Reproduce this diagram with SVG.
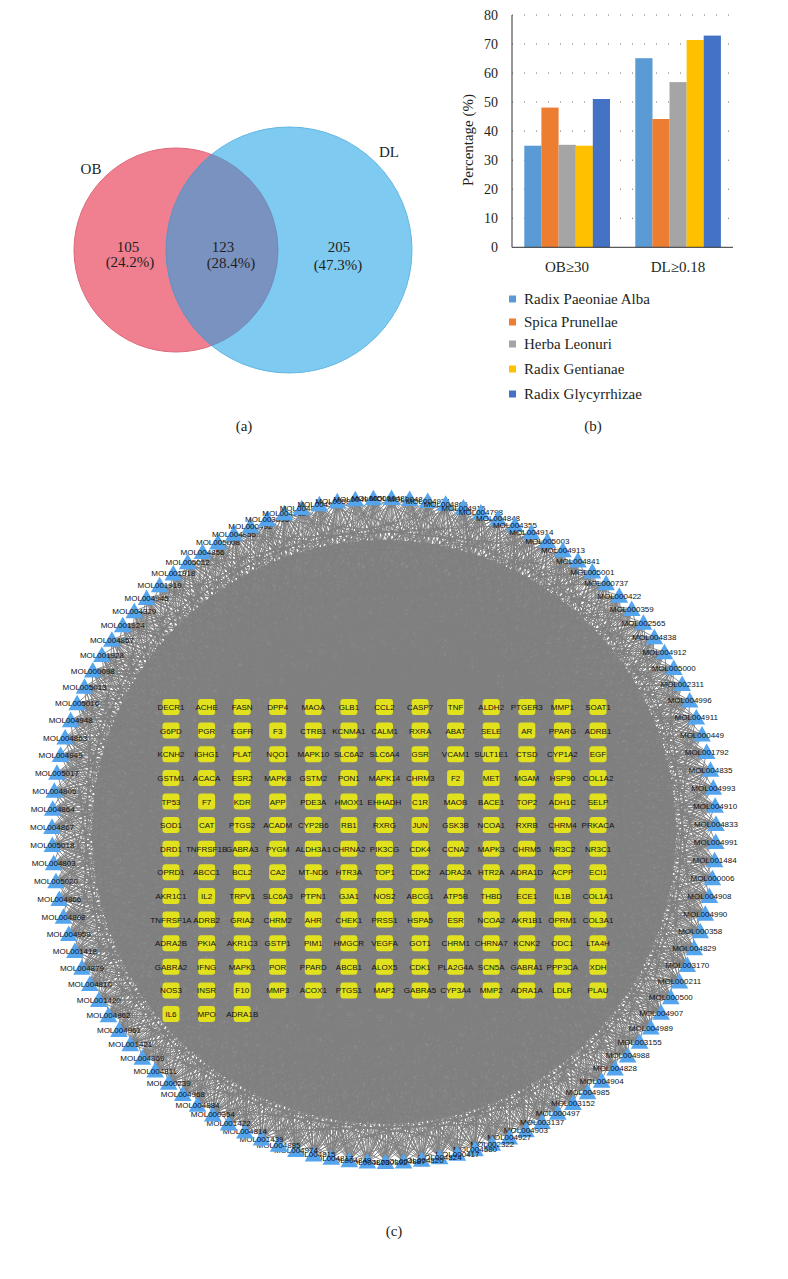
<svg xmlns="http://www.w3.org/2000/svg" width="788" height="1279" viewBox="0 0 788 1279">
<style>
.sf{font-family:"Liberation Serif","Times New Roman",serif;fill:#231f20}
.vt{font-size:15px;text-anchor:middle}
.tk{font-size:14px;text-anchor:end}
.lg{font-size:15px}
.cp{font-size:15px;text-anchor:middle}
.gt,.ml{font-family:"Liberation Sans",Arial,sans-serif;font-size:8px;text-anchor:middle;fill:#111}
.gl{stroke:#6f6f6f;stroke-width:1;stroke-dasharray:1 11;fill:none}
.ax{stroke:#333;stroke-width:1;fill:none}
.edge{fill:none;stroke:#808080;stroke-width:0.85}
.gb{fill:#e1e11e}
.tri{fill:#55a5ee}
</style>
<defs>
<rect id="box" class="gb" x="-8.5" y="-8" width="17" height="16" rx="3"/>
<path id="tri" class="tri" d="M0 -8.5L8.8 7L-8.8 7Z"/>
<path id="fA" class="edge" d="M384 498L171 707M384 498L313 730M384 498L456 754M384 498L598 777M384 498L206 801M384 498L349 825M384 498L491 849M384 498L562 872M384 498L242 896M384 498L384 919M384 498L527 943M384 498L278 967M384 498L420 990M384 498L206 1014M384 498L598 707M384 498L491 730M384 498L278 754M384 498L171 849M384 498L598 896M384 498L384 801M384 498L456 1014M384 498L313 872M384 498L150 640M384 498L620 650M384 498L120 760"/>
<path id="fB" class="edge" d="M384 498L206 707M384 498L349 730M384 498L491 754M384 498L171 777M384 498L242 825M384 498L384 849M384 498L527 872M384 498L598 919M384 498L278 943M384 498L420 967M384 498L562 990M384 498L171 990M384 498L527 707M384 498L420 754M384 498L242 730M384 498L313 801M384 498L456 801M384 498L562 825M384 498L206 919M384 498L349 1014M384 498L491 896M384 498L598 1014M384 498L640 720M384 498L180 600M384 498L660 800"/>
<path id="fC" class="edge" d="M384 498L242 707M384 498L384 707M384 498L562 730M384 498L206 754M384 498L349 777M384 498L527 777M384 498L278 825M384 498L420 825M384 498L171 872M384 498L349 896M384 498L456 872M384 498L598 849M384 498L242 943M384 498L313 990M384 498L491 967M384 498L562 1014M384 498L420 1014M384 498L171 930M384 498L527 896M384 498L278 1014M384 498L384 967M384 498L598 943M384 498L590 600M384 498L130 700M384 498L110 840"/>
</defs>
<rect width="788" height="1279" fill="#fff"/>

<!-- (a) Venn -->
<g id="venn">
<circle id="venn-OB" cx="176" cy="250" r="102" fill="#f07f90" stroke="#dc6a7d" stroke-width="1"/>
<circle id="venn-DL" cx="289" cy="250" r="123" fill="#7ecaf0" stroke="#63b8e3" stroke-width="1"/>
<path id="venn-both" d="M211.6 154.4A102 102 0 0 1 211.6 345.6A123 123 0 0 1 211.6 154.4Z" fill="#7a92c0" stroke="#6d85b6" stroke-width="0.8"/>
<text class="sf vt" x="91" y="174">OB</text>
<text class="sf vt" x="389" y="157">DL</text>
<text class="sf vt" x="128" y="252">105</text>
<text class="sf vt" x="130" y="267">(24.2%)</text>
<text class="sf vt" x="223" y="252">123</text>
<text class="sf vt" x="231" y="268">(28.4%)</text>
<text class="sf vt" x="339" y="252">205</text>
<text class="sf vt" x="338" y="270">(47.3%)</text>
<text class="sf cp" x="244" y="431">(a)</text>
</g>

<!-- (b) bar chart -->
<g id="barchart">
<path class="gl" d="M512 218.3H730M512 189.2H730M512 160.2H730M512 131.1H730M512 102.1H730M512 73.1H730M512 44H730M512 15H730"/>
<rect x="524.3" y="145.7" width="17.2" height="101.6" fill="#5b9bd5"/>
<rect x="541.4" y="107.6" width="17.2" height="139.7" fill="#ed7d31"/>
<rect x="558.6" y="144.8" width="17.2" height="102.5" fill="#a5a5a5"/>
<rect x="575.7" y="145.7" width="17.2" height="101.6" fill="#ffc000"/>
<rect x="592.8" y="99" width="17.2" height="148.3" fill="#4472c4"/>
<rect x="635.3" y="58.2" width="17.2" height="189.1" fill="#5b9bd5"/>
<rect x="652.4" y="119" width="17.2" height="128.3" fill="#ed7d31"/>
<rect x="669.5" y="82.1" width="17.2" height="165.2" fill="#a5a5a5"/>
<rect x="686.6" y="40" width="17.2" height="207.3" fill="#ffc000"/>
<rect x="703.7" y="35.6" width="17.2" height="211.7" fill="#4472c4"/>
<path class="ax" d="M512 15V247.3H733"/>
<text class="sf tk" x="498" y="252.3">0</text>
<text class="sf tk" x="498" y="223.3">10</text>
<text class="sf tk" x="498" y="194.2">20</text>
<text class="sf tk" x="498" y="165.2">30</text>
<text class="sf tk" x="498" y="136.1">40</text>
<text class="sf tk" x="498" y="107.1">50</text>
<text class="sf tk" x="498" y="78.1">60</text>
<text class="sf tk" x="498" y="49">70</text>
<text class="sf tk" x="498" y="20">80</text>
<text class="sf vt" transform="translate(473 140) rotate(-90)">Percentage (%)</text>
<text class="sf vt" x="567" y="272">OB≥30</text>
<text class="sf vt" x="678" y="272">DL≥0.18</text>
<rect x="509" y="295.5" width="7" height="7" fill="#5b9bd5"/>
<rect x="509" y="318.5" width="7" height="7" fill="#ed7d31"/>
<rect x="509" y="340.5" width="7" height="7" fill="#a5a5a5"/>
<rect x="509" y="365.5" width="7" height="7" fill="#ffc000"/>
<rect x="509" y="390.5" width="7" height="7" fill="#4472c4"/>
<text class="sf lg" x="524" y="304">Radix Paeoniae Alba</text>
<text class="sf lg" x="524" y="327">Spica Prunellae</text>
<text class="sf lg" x="524" y="349">Herba Leonuri</text>
<text class="sf lg" x="524" y="374">Radix Gentianae</text>
<text class="sf lg" x="524" y="399">Radix Glycyrrhizae</text>
<text class="sf cp" x="593" y="431">(b)</text>
</g>

<!-- (c) network connectors -->
<g id="connectors">
<circle cx="384" cy="832" r="292" fill="#8b8b8b"/>
<use href="#fA" transform="rotate(42 384 830)"/>
<use href="#fB" transform="rotate(45.13 384 830)"/>
<use href="#fC" transform="rotate(48.26 384 830)"/>
<use href="#fA" transform="rotate(51.39 384 830)"/>
<use href="#fB" transform="rotate(54.52 384 830)"/>
<use href="#fC" transform="rotate(57.65 384 830)"/>
<use href="#fA" transform="rotate(60.78 384 830)"/>
<use href="#fB" transform="rotate(63.91 384 830)"/>
<use href="#fC" transform="rotate(67.04 384 830)"/>
<use href="#fA" transform="rotate(70.17 384 830)"/>
<use href="#fB" transform="rotate(73.3 384 830)"/>
<use href="#fC" transform="rotate(76.43 384 830)"/>
<use href="#fA" transform="rotate(79.56 384 830)"/>
<use href="#fB" transform="rotate(82.7 384 830)"/>
<use href="#fC" transform="rotate(85.83 384 830)"/>
<use href="#fA" transform="rotate(88.96 384 830)"/>
<use href="#fB" transform="rotate(92.09 384 830)"/>
<use href="#fC" transform="rotate(95.22 384 830)"/>
<use href="#fA" transform="rotate(98.35 384 830)"/>
<use href="#fB" transform="rotate(101.48 384 830)"/>
<use href="#fC" transform="rotate(104.61 384 830)"/>
<use href="#fA" transform="rotate(107.74 384 830)"/>
<use href="#fB" transform="rotate(110.87 384 830)"/>
<use href="#fC" transform="rotate(114 384 830)"/>
<use href="#fA" transform="rotate(117.13 384 830)"/>
<use href="#fB" transform="rotate(120.26 384 830)"/>
<use href="#fC" transform="rotate(123.39 384 830)"/>
<use href="#fA" transform="rotate(126.52 384 830)"/>
<use href="#fB" transform="rotate(129.65 384 830)"/>
<use href="#fC" transform="rotate(132.78 384 830)"/>
<use href="#fA" transform="rotate(135.91 384 830)"/>
<use href="#fB" transform="rotate(139.04 384 830)"/>
<use href="#fC" transform="rotate(142.17 384 830)"/>
<use href="#fA" transform="rotate(145.3 384 830)"/>
<use href="#fB" transform="rotate(148.43 384 830)"/>
<use href="#fC" transform="rotate(151.57 384 830)"/>
<use href="#fA" transform="rotate(154.7 384 830)"/>
<use href="#fB" transform="rotate(157.83 384 830)"/>
<use href="#fC" transform="rotate(160.96 384 830)"/>
<use href="#fA" transform="rotate(164.09 384 830)"/>
<use href="#fB" transform="rotate(167.22 384 830)"/>
<use href="#fC" transform="rotate(170.35 384 830)"/>
<use href="#fA" transform="rotate(173.48 384 830)"/>
<use href="#fB" transform="rotate(176.61 384 830)"/>
<use href="#fC" transform="rotate(179.74 384 830)"/>
<use href="#fA" transform="rotate(182.87 384 830)"/>
<use href="#fB" transform="rotate(186 384 830)"/>
<use href="#fC" transform="rotate(189.13 384 830)"/>
<use href="#fA" transform="rotate(192.26 384 830)"/>
<use href="#fB" transform="rotate(195.39 384 830)"/>
<use href="#fC" transform="rotate(198.52 384 830)"/>
<use href="#fA" transform="rotate(201.65 384 830)"/>
<use href="#fB" transform="rotate(204.78 384 830)"/>
<use href="#fC" transform="rotate(207.91 384 830)"/>
<use href="#fA" transform="rotate(211.04 384 830)"/>
<use href="#fB" transform="rotate(214.17 384 830)"/>
<use href="#fC" transform="rotate(217.3 384 830)"/>
<use href="#fA" transform="rotate(220.43 384 830)"/>
<use href="#fB" transform="rotate(223.57 384 830)"/>
<use href="#fC" transform="rotate(226.7 384 830)"/>
<use href="#fA" transform="rotate(229.83 384 830)"/>
<use href="#fB" transform="rotate(232.96 384 830)"/>
<use href="#fC" transform="rotate(236.09 384 830)"/>
<use href="#fA" transform="rotate(239.22 384 830)"/>
<use href="#fB" transform="rotate(242.35 384 830)"/>
<use href="#fC" transform="rotate(245.48 384 830)"/>
<use href="#fA" transform="rotate(248.61 384 830)"/>
<use href="#fB" transform="rotate(251.74 384 830)"/>
<use href="#fC" transform="rotate(254.87 384 830)"/>
<use href="#fA" transform="rotate(258 384 830)"/>
<use href="#fB" transform="rotate(261.13 384 830)"/>
<use href="#fC" transform="rotate(264.26 384 830)"/>
<use href="#fA" transform="rotate(267.39 384 830)"/>
<use href="#fB" transform="rotate(270.52 384 830)"/>
<use href="#fC" transform="rotate(273.65 384 830)"/>
<use href="#fA" transform="rotate(276.78 384 830)"/>
<use href="#fB" transform="rotate(279.91 384 830)"/>
<use href="#fC" transform="rotate(283.04 384 830)"/>
<use href="#fA" transform="rotate(286.17 384 830)"/>
<use href="#fB" transform="rotate(289.3 384 830)"/>
<use href="#fC" transform="rotate(292.43 384 830)"/>
<use href="#fA" transform="rotate(295.57 384 830)"/>
<use href="#fB" transform="rotate(298.7 384 830)"/>
<use href="#fC" transform="rotate(301.83 384 830)"/>
<use href="#fA" transform="rotate(304.96 384 830)"/>
<use href="#fB" transform="rotate(308.09 384 830)"/>
<use href="#fC" transform="rotate(311.22 384 830)"/>
<use href="#fA" transform="rotate(314.35 384 830)"/>
<use href="#fB" transform="rotate(317.48 384 830)"/>
<use href="#fC" transform="rotate(320.61 384 830)"/>
<use href="#fA" transform="rotate(323.74 384 830)"/>
<use href="#fB" transform="rotate(326.87 384 830)"/>
<use href="#fC" transform="rotate(330 384 830)"/>
<use href="#fA" transform="rotate(333.13 384 830)"/>
<use href="#fB" transform="rotate(336.26 384 830)"/>
<use href="#fC" transform="rotate(339.39 384 830)"/>
<use href="#fA" transform="rotate(342.52 384 830)"/>
<use href="#fB" transform="rotate(345.65 384 830)"/>
<use href="#fC" transform="rotate(348.78 384 830)"/>
<use href="#fA" transform="rotate(351.91 384 830)"/>
<use href="#fB" transform="rotate(355.04 384 830)"/>
<use href="#fC" transform="rotate(358.17 384 830)"/>
<use href="#fA" transform="rotate(1.3 384 830)"/>
<use href="#fB" transform="rotate(4.43 384 830)"/>
<use href="#fC" transform="rotate(7.57 384 830)"/>
<use href="#fA" transform="rotate(10.7 384 830)"/>
<use href="#fB" transform="rotate(13.83 384 830)"/>
<use href="#fC" transform="rotate(16.96 384 830)"/>
<use href="#fA" transform="rotate(20.09 384 830)"/>
<use href="#fB" transform="rotate(23.22 384 830)"/>
<use href="#fC" transform="rotate(26.35 384 830)"/>
<use href="#fA" transform="rotate(29.48 384 830)"/>
<use href="#fB" transform="rotate(32.61 384 830)"/>
<use href="#fC" transform="rotate(35.74 384 830)"/>
<use href="#fA" transform="rotate(38.87 384 830)"/>
</g>

<!-- target gene nodes -->
<g id="targets">
<g id="t-DECR1" transform="translate(171 707)"><use href="#box"/><text class="gt" y="3">DECR1</text></g>
<g id="t-ACHE" transform="translate(206.6 707)"><use href="#box"/><text class="gt" y="3">ACHE</text></g>
<g id="t-FASN" transform="translate(242.2 707)"><use href="#box"/><text class="gt" y="3">FASN</text></g>
<g id="t-DPP4" transform="translate(277.7 707)"><use href="#box"/><text class="gt" y="3">DPP4</text></g>
<g id="t-MAOA" transform="translate(313.3 707)"><use href="#box"/><text class="gt" y="3">MAOA</text></g>
<g id="t-GLB1" transform="translate(348.9 707)"><use href="#box"/><text class="gt" y="3">GLB1</text></g>
<g id="t-CCL2" transform="translate(384.5 707)"><use href="#box"/><text class="gt" y="3">CCL2</text></g>
<g id="t-CASP7" transform="translate(420.1 707)"><use href="#box"/><text class="gt" y="3">CASP7</text></g>
<g id="t-TNF" transform="translate(455.6 707)"><use href="#box"/><text class="gt" y="3">TNF</text></g>
<g id="t-ALDH2" transform="translate(491.2 707)"><use href="#box"/><text class="gt" y="3">ALDH2</text></g>
<g id="t-PTGER3" transform="translate(526.8 707)"><use href="#box"/><text class="gt" y="3">PTGER3</text></g>
<g id="t-MMP1" transform="translate(562.4 707)"><use href="#box"/><text class="gt" y="3">MMP1</text></g>
<g id="t-SOAT1" transform="translate(598 707)"><use href="#box"/><text class="gt" y="3">SOAT1</text></g>

<g id="t-G6PD" transform="translate(171 730.6)"><use href="#box"/><text class="gt" y="3">G6PD</text></g>
<g id="t-PGR" transform="translate(206.6 730.6)"><use href="#box"/><text class="gt" y="3">PGR</text></g>
<g id="t-EGFR" transform="translate(242.2 730.6)"><use href="#box"/><text class="gt" y="3">EGFR</text></g>
<g id="t-F3" transform="translate(277.7 730.6)"><use href="#box"/><text class="gt" y="3">F3</text></g>
<g id="t-CTRB1" transform="translate(313.3 730.6)"><use href="#box"/><text class="gt" y="3">CTRB1</text></g>
<g id="t-KCNMA1" transform="translate(348.9 730.6)"><use href="#box"/><text class="gt" y="3">KCNMA1</text></g>
<g id="t-CALM1" transform="translate(384.5 730.6)"><use href="#box"/><text class="gt" y="3">CALM1</text></g>
<g id="t-RXRA" transform="translate(420.1 730.6)"><use href="#box"/><text class="gt" y="3">RXRA</text></g>
<g id="t-ABAT" transform="translate(455.6 730.6)"><use href="#box"/><text class="gt" y="3">ABAT</text></g>
<g id="t-SELE" transform="translate(491.2 730.6)"><use href="#box"/><text class="gt" y="3">SELE</text></g>
<g id="t-AR" transform="translate(526.8 730.6)"><use href="#box"/><text class="gt" y="3">AR</text></g>
<g id="t-PPARG" transform="translate(562.4 730.6)"><use href="#box"/><text class="gt" y="3">PPARG</text></g>
<g id="t-ADRB1" transform="translate(598 730.6)"><use href="#box"/><text class="gt" y="3">ADRB1</text></g>

<g id="t-KCNH2" transform="translate(171 754.2)"><use href="#box"/><text class="gt" y="3">KCNH2</text></g>
<g id="t-IGHG1" transform="translate(206.6 754.2)"><use href="#box"/><text class="gt" y="3">IGHG1</text></g>
<g id="t-PLAT" transform="translate(242.2 754.2)"><use href="#box"/><text class="gt" y="3">PLAT</text></g>
<g id="t-NQO1" transform="translate(277.7 754.2)"><use href="#box"/><text class="gt" y="3">NQO1</text></g>
<g id="t-MAPK10" transform="translate(313.3 754.2)"><use href="#box"/><text class="gt" y="3">MAPK10</text></g>
<g id="t-SLC6A2" transform="translate(348.9 754.2)"><use href="#box"/><text class="gt" y="3">SLC6A2</text></g>
<g id="t-SLC6A4" transform="translate(384.5 754.2)"><use href="#box"/><text class="gt" y="3">SLC6A4</text></g>
<g id="t-GSR" transform="translate(420.1 754.2)"><use href="#box"/><text class="gt" y="3">GSR</text></g>
<g id="t-VCAM1" transform="translate(455.6 754.2)"><use href="#box"/><text class="gt" y="3">VCAM1</text></g>
<g id="t-SULT1E1" transform="translate(491.2 754.2)"><use href="#box"/><text class="gt" y="3">SULT1E1</text></g>
<g id="t-CTSD" transform="translate(526.8 754.2)"><use href="#box"/><text class="gt" y="3">CTSD</text></g>
<g id="t-CYP1A2" transform="translate(562.4 754.2)"><use href="#box"/><text class="gt" y="3">CYP1A2</text></g>
<g id="t-EGF" transform="translate(598 754.2)"><use href="#box"/><text class="gt" y="3">EGF</text></g>

<g id="t-GSTM1" transform="translate(171 777.9)"><use href="#box"/><text class="gt" y="3">GSTM1</text></g>
<g id="t-ACACA" transform="translate(206.6 777.9)"><use href="#box"/><text class="gt" y="3">ACACA</text></g>
<g id="t-ESR2" transform="translate(242.2 777.9)"><use href="#box"/><text class="gt" y="3">ESR2</text></g>
<g id="t-MAPK8" transform="translate(277.7 777.9)"><use href="#box"/><text class="gt" y="3">MAPK8</text></g>
<g id="t-GSTM2" transform="translate(313.3 777.9)"><use href="#box"/><text class="gt" y="3">GSTM2</text></g>
<g id="t-PON1" transform="translate(348.9 777.9)"><use href="#box"/><text class="gt" y="3">PON1</text></g>
<g id="t-MAPK14" transform="translate(384.5 777.9)"><use href="#box"/><text class="gt" y="3">MAPK14</text></g>
<g id="t-CHRM3" transform="translate(420.1 777.9)"><use href="#box"/><text class="gt" y="3">CHRM3</text></g>
<g id="t-F2" transform="translate(455.6 777.9)"><use href="#box"/><text class="gt" y="3">F2</text></g>
<g id="t-MET" transform="translate(491.2 777.9)"><use href="#box"/><text class="gt" y="3">MET</text></g>
<g id="t-MGAM" transform="translate(526.8 777.9)"><use href="#box"/><text class="gt" y="3">MGAM</text></g>
<g id="t-HSP90" transform="translate(562.4 777.9)"><use href="#box"/><text class="gt" y="3">HSP90</text></g>
<g id="t-COL1A2" transform="translate(598 777.9)"><use href="#box"/><text class="gt" y="3">COL1A2</text></g>

<g id="t-TP53" transform="translate(171 801.5)"><use href="#box"/><text class="gt" y="3">TP53</text></g>
<g id="t-F7" transform="translate(206.6 801.5)"><use href="#box"/><text class="gt" y="3">F7</text></g>
<g id="t-KDR" transform="translate(242.2 801.5)"><use href="#box"/><text class="gt" y="3">KDR</text></g>
<g id="t-APP" transform="translate(277.7 801.5)"><use href="#box"/><text class="gt" y="3">APP</text></g>
<g id="t-PDE3A" transform="translate(313.3 801.5)"><use href="#box"/><text class="gt" y="3">PDE3A</text></g>
<g id="t-HMOX1" transform="translate(348.9 801.5)"><use href="#box"/><text class="gt" y="3">HMOX1</text></g>
<g id="t-EHHADH" transform="translate(384.5 801.5)"><use href="#box"/><text class="gt" y="3">EHHADH</text></g>
<g id="t-C1R" transform="translate(420.1 801.5)"><use href="#box"/><text class="gt" y="3">C1R</text></g>
<g id="t-MAOB" transform="translate(455.6 801.5)"><use href="#box"/><text class="gt" y="3">MAOB</text></g>
<g id="t-BACE1" transform="translate(491.2 801.5)"><use href="#box"/><text class="gt" y="3">BACE1</text></g>
<g id="t-TOP2" transform="translate(526.8 801.5)"><use href="#box"/><text class="gt" y="3">TOP2</text></g>
<g id="t-ADH1C" transform="translate(562.4 801.5)"><use href="#box"/><text class="gt" y="3">ADH1C</text></g>
<g id="t-SELP" transform="translate(598 801.5)"><use href="#box"/><text class="gt" y="3">SELP</text></g>

<g id="t-SOD1" transform="translate(171 825.1)"><use href="#box"/><text class="gt" y="3">SOD1</text></g>
<g id="t-CAT" transform="translate(206.6 825.1)"><use href="#box"/><text class="gt" y="3">CAT</text></g>
<g id="t-PTGS2" transform="translate(242.2 825.1)"><use href="#box"/><text class="gt" y="3">PTGS2</text></g>
<g id="t-ACADM" transform="translate(277.7 825.1)"><use href="#box"/><text class="gt" y="3">ACADM</text></g>
<g id="t-CYP2B6" transform="translate(313.3 825.1)"><use href="#box"/><text class="gt" y="3">CYP2B6</text></g>
<g id="t-RB1" transform="translate(348.9 825.1)"><use href="#box"/><text class="gt" y="3">RB1</text></g>
<g id="t-RXRG" transform="translate(384.5 825.1)"><use href="#box"/><text class="gt" y="3">RXRG</text></g>
<g id="t-JUN" transform="translate(420.1 825.1)"><use href="#box"/><text class="gt" y="3">JUN</text></g>
<g id="t-GSK3B" transform="translate(455.6 825.1)"><use href="#box"/><text class="gt" y="3">GSK3B</text></g>
<g id="t-NCOA1" transform="translate(491.2 825.1)"><use href="#box"/><text class="gt" y="3">NCOA1</text></g>
<g id="t-RXRB" transform="translate(526.8 825.1)"><use href="#box"/><text class="gt" y="3">RXRB</text></g>
<g id="t-CHRM4" transform="translate(562.4 825.1)"><use href="#box"/><text class="gt" y="3">CHRM4</text></g>
<g id="t-PRKACA" transform="translate(598 825.1)"><use href="#box"/><text class="gt" y="3">PRKACA</text></g>

<g id="t-DRD1" transform="translate(171 848.7)"><use href="#box"/><text class="gt" y="3">DRD1</text></g>
<g id="t-TNFRSF1B" transform="translate(206.6 848.7)"><use href="#box"/><text class="gt" y="3">TNFRSF1B</text></g>
<g id="t-GABRA3" transform="translate(242.2 848.7)"><use href="#box"/><text class="gt" y="3">GABRA3</text></g>
<g id="t-PYGM" transform="translate(277.7 848.7)"><use href="#box"/><text class="gt" y="3">PYGM</text></g>
<g id="t-ALDH3A1" transform="translate(313.3 848.7)"><use href="#box"/><text class="gt" y="3">ALDH3A1</text></g>
<g id="t-CHRNA2" transform="translate(348.9 848.7)"><use href="#box"/><text class="gt" y="3">CHRNA2</text></g>
<g id="t-PIK3CG" transform="translate(384.5 848.7)"><use href="#box"/><text class="gt" y="3">PIK3CG</text></g>
<g id="t-CDK4" transform="translate(420.1 848.7)"><use href="#box"/><text class="gt" y="3">CDK4</text></g>
<g id="t-CCNA2" transform="translate(455.6 848.7)"><use href="#box"/><text class="gt" y="3">CCNA2</text></g>
<g id="t-MAPK3" transform="translate(491.2 848.7)"><use href="#box"/><text class="gt" y="3">MAPK3</text></g>
<g id="t-CHRM5" transform="translate(526.8 848.7)"><use href="#box"/><text class="gt" y="3">CHRM5</text></g>
<g id="t-NR3C2" transform="translate(562.4 848.7)"><use href="#box"/><text class="gt" y="3">NR3C2</text></g>
<g id="t-NR3C1" transform="translate(598 848.7)"><use href="#box"/><text class="gt" y="3">NR3C1</text></g>

<g id="t-OPRD1" transform="translate(171 872.3)"><use href="#box"/><text class="gt" y="3">OPRD1</text></g>
<g id="t-ABCC1" transform="translate(206.6 872.3)"><use href="#box"/><text class="gt" y="3">ABCC1</text></g>
<g id="t-BCL2" transform="translate(242.2 872.3)"><use href="#box"/><text class="gt" y="3">BCL2</text></g>
<g id="t-CA2" transform="translate(277.7 872.3)"><use href="#box"/><text class="gt" y="3">CA2</text></g>
<g id="t-MT-ND6" transform="translate(313.3 872.3)"><use href="#box"/><text class="gt" y="3">MT-ND6</text></g>
<g id="t-HTR3A" transform="translate(348.9 872.3)"><use href="#box"/><text class="gt" y="3">HTR3A</text></g>
<g id="t-TOP1" transform="translate(384.5 872.3)"><use href="#box"/><text class="gt" y="3">TOP1</text></g>
<g id="t-CDK2" transform="translate(420.1 872.3)"><use href="#box"/><text class="gt" y="3">CDK2</text></g>
<g id="t-ADRA2A" transform="translate(455.6 872.3)"><use href="#box"/><text class="gt" y="3">ADRA2A</text></g>
<g id="t-HTR2A" transform="translate(491.2 872.3)"><use href="#box"/><text class="gt" y="3">HTR2A</text></g>
<g id="t-ADRA1D" transform="translate(526.8 872.3)"><use href="#box"/><text class="gt" y="3">ADRA1D</text></g>
<g id="t-ACPP" transform="translate(562.4 872.3)"><use href="#box"/><text class="gt" y="3">ACPP</text></g>
<g id="t-ECI1" transform="translate(598 872.3)"><use href="#box"/><text class="gt" y="3">ECI1</text></g>

<g id="t-AKR1C1" transform="translate(171 896)"><use href="#box"/><text class="gt" y="3">AKR1C1</text></g>
<g id="t-IL2" transform="translate(206.6 896)"><use href="#box"/><text class="gt" y="3">IL2</text></g>
<g id="t-TRPV1" transform="translate(242.2 896)"><use href="#box"/><text class="gt" y="3">TRPV1</text></g>
<g id="t-SLC6A3" transform="translate(277.7 896)"><use href="#box"/><text class="gt" y="3">SLC6A3</text></g>
<g id="t-PTPN1" transform="translate(313.3 896)"><use href="#box"/><text class="gt" y="3">PTPN1</text></g>
<g id="t-GJA1" transform="translate(348.9 896)"><use href="#box"/><text class="gt" y="3">GJA1</text></g>
<g id="t-NOS2" transform="translate(384.5 896)"><use href="#box"/><text class="gt" y="3">NOS2</text></g>
<g id="t-ABCG1" transform="translate(420.1 896)"><use href="#box"/><text class="gt" y="3">ABCG1</text></g>
<g id="t-ATP5B" transform="translate(455.6 896)"><use href="#box"/><text class="gt" y="3">ATP5B</text></g>
<g id="t-THBD" transform="translate(491.2 896)"><use href="#box"/><text class="gt" y="3">THBD</text></g>
<g id="t-ECE1" transform="translate(526.8 896)"><use href="#box"/><text class="gt" y="3">ECE1</text></g>
<g id="t-IL1B" transform="translate(562.4 896)"><use href="#box"/><text class="gt" y="3">IL1B</text></g>
<g id="t-COL1A1" transform="translate(598 896)"><use href="#box"/><text class="gt" y="3">COL1A1</text></g>

<g id="t-TNFRSF1A" transform="translate(171 919.6)"><use href="#box"/><text class="gt" y="3">TNFRSF1A</text></g>
<g id="t-ADRB2" transform="translate(206.6 919.6)"><use href="#box"/><text class="gt" y="3">ADRB2</text></g>
<g id="t-GRIA2" transform="translate(242.2 919.6)"><use href="#box"/><text class="gt" y="3">GRIA2</text></g>
<g id="t-CHRM2" transform="translate(277.7 919.6)"><use href="#box"/><text class="gt" y="3">CHRM2</text></g>
<g id="t-AHR" transform="translate(313.3 919.6)"><use href="#box"/><text class="gt" y="3">AHR</text></g>
<g id="t-CHEK1" transform="translate(348.9 919.6)"><use href="#box"/><text class="gt" y="3">CHEK1</text></g>
<g id="t-PRSS1" transform="translate(384.5 919.6)"><use href="#box"/><text class="gt" y="3">PRSS1</text></g>
<g id="t-HSPA5" transform="translate(420.1 919.6)"><use href="#box"/><text class="gt" y="3">HSPA5</text></g>
<g id="t-ESR" transform="translate(455.6 919.6)"><use href="#box"/><text class="gt" y="3">ESR</text></g>
<g id="t-NCOA2" transform="translate(491.2 919.6)"><use href="#box"/><text class="gt" y="3">NCOA2</text></g>
<g id="t-AKR1B1" transform="translate(526.8 919.6)"><use href="#box"/><text class="gt" y="3">AKR1B1</text></g>
<g id="t-OPRM1" transform="translate(562.4 919.6)"><use href="#box"/><text class="gt" y="3">OPRM1</text></g>
<g id="t-COL3A1" transform="translate(598 919.6)"><use href="#box"/><text class="gt" y="3">COL3A1</text></g>

<g id="t-ADRA2B" transform="translate(171 943.2)"><use href="#box"/><text class="gt" y="3">ADRA2B</text></g>
<g id="t-PKIA" transform="translate(206.6 943.2)"><use href="#box"/><text class="gt" y="3">PKIA</text></g>
<g id="t-AKR1C3" transform="translate(242.2 943.2)"><use href="#box"/><text class="gt" y="3">AKR1C3</text></g>
<g id="t-GSTP1" transform="translate(277.7 943.2)"><use href="#box"/><text class="gt" y="3">GSTP1</text></g>
<g id="t-PIM1" transform="translate(313.3 943.2)"><use href="#box"/><text class="gt" y="3">PIM1</text></g>
<g id="t-HMGCR" transform="translate(348.9 943.2)"><use href="#box"/><text class="gt" y="3">HMGCR</text></g>
<g id="t-VEGFA" transform="translate(384.5 943.2)"><use href="#box"/><text class="gt" y="3">VEGFA</text></g>
<g id="t-GOT1" transform="translate(420.1 943.2)"><use href="#box"/><text class="gt" y="3">GOT1</text></g>
<g id="t-CHRM1" transform="translate(455.6 943.2)"><use href="#box"/><text class="gt" y="3">CHRM1</text></g>
<g id="t-CHRNA7" transform="translate(491.2 943.2)"><use href="#box"/><text class="gt" y="3">CHRNA7</text></g>
<g id="t-KCNK2" transform="translate(526.8 943.2)"><use href="#box"/><text class="gt" y="3">KCNK2</text></g>
<g id="t-ODC1" transform="translate(562.4 943.2)"><use href="#box"/><text class="gt" y="3">ODC1</text></g>
<g id="t-LTA4H" transform="translate(598 943.2)"><use href="#box"/><text class="gt" y="3">LTA4H</text></g>

<g id="t-GABRA2" transform="translate(171 966.8)"><use href="#box"/><text class="gt" y="3">GABRA2</text></g>
<g id="t-IFNG" transform="translate(206.6 966.8)"><use href="#box"/><text class="gt" y="3">IFNG</text></g>
<g id="t-MAPK1" transform="translate(242.2 966.8)"><use href="#box"/><text class="gt" y="3">MAPK1</text></g>
<g id="t-POR" transform="translate(277.7 966.8)"><use href="#box"/><text class="gt" y="3">POR</text></g>
<g id="t-PPARD" transform="translate(313.3 966.8)"><use href="#box"/><text class="gt" y="3">PPARD</text></g>
<g id="t-ABCB1" transform="translate(348.9 966.8)"><use href="#box"/><text class="gt" y="3">ABCB1</text></g>
<g id="t-ALOX5" transform="translate(384.5 966.8)"><use href="#box"/><text class="gt" y="3">ALOX5</text></g>
<g id="t-CDK1" transform="translate(420.1 966.8)"><use href="#box"/><text class="gt" y="3">CDK1</text></g>
<g id="t-PLA2G4A" transform="translate(455.6 966.8)"><use href="#box"/><text class="gt" y="3">PLA2G4A</text></g>
<g id="t-SCN5A" transform="translate(491.2 966.8)"><use href="#box"/><text class="gt" y="3">SCN5A</text></g>
<g id="t-GABRA1" transform="translate(526.8 966.8)"><use href="#box"/><text class="gt" y="3">GABRA1</text></g>
<g id="t-PPP3CA" transform="translate(562.4 966.8)"><use href="#box"/><text class="gt" y="3">PPP3CA</text></g>
<g id="t-XDH" transform="translate(598 966.8)"><use href="#box"/><text class="gt" y="3">XDH</text></g>

<g id="t-NOS3" transform="translate(171 990.4)"><use href="#box"/><text class="gt" y="3">NOS3</text></g>
<g id="t-INSR" transform="translate(206.6 990.4)"><use href="#box"/><text class="gt" y="3">INSR</text></g>
<g id="t-F10" transform="translate(242.2 990.4)"><use href="#box"/><text class="gt" y="3">F10</text></g>
<g id="t-MMP3" transform="translate(277.7 990.4)"><use href="#box"/><text class="gt" y="3">MMP3</text></g>
<g id="t-ACOX1" transform="translate(313.3 990.4)"><use href="#box"/><text class="gt" y="3">ACOX1</text></g>
<g id="t-PTGS1" transform="translate(348.9 990.4)"><use href="#box"/><text class="gt" y="3">PTGS1</text></g>
<g id="t-MAP2" transform="translate(384.5 990.4)"><use href="#box"/><text class="gt" y="3">MAP2</text></g>
<g id="t-GABRA5" transform="translate(420.1 990.4)"><use href="#box"/><text class="gt" y="3">GABRA5</text></g>
<g id="t-CYP3A4" transform="translate(455.6 990.4)"><use href="#box"/><text class="gt" y="3">CYP3A4</text></g>
<g id="t-MMP2" transform="translate(491.2 990.4)"><use href="#box"/><text class="gt" y="3">MMP2</text></g>
<g id="t-ADRA1A" transform="translate(526.8 990.4)"><use href="#box"/><text class="gt" y="3">ADRA1A</text></g>
<g id="t-LDLR" transform="translate(562.4 990.4)"><use href="#box"/><text class="gt" y="3">LDLR</text></g>
<g id="t-PLAU" transform="translate(598 990.4)"><use href="#box"/><text class="gt" y="3">PLAU</text></g>

<g id="t-IL6" transform="translate(171 1014.1)"><use href="#box"/><text class="gt" y="3">IL6</text></g>
<g id="t-MPO" transform="translate(206.6 1014.1)"><use href="#box"/><text class="gt" y="3">MPO</text></g>
<g id="t-ADRA1B" transform="translate(242.2 1014.1)"><use href="#box"/><text class="gt" y="3">ADRA1B</text></g>
</g>

<!-- compound nodes on the ring -->
<g id="compounds">
<g id="c-MOL000737" transform="rotate(42 384 830) translate(384 498) rotate(-42)"><use href="#tri"/><text class="ml" y="3">MOL000737</text></g>
<g id="c-MOL000422" transform="rotate(45.13 384 830) translate(384 498) rotate(-45.13)"><use href="#tri"/><text class="ml" y="3">MOL000422</text></g>
<g id="c-MOL000359" transform="rotate(48.26 384 830) translate(384 498) rotate(-48.26)"><use href="#tri"/><text class="ml" y="3">MOL000359</text></g>
<g id="c-MOL002565" transform="rotate(51.39 384 830) translate(384 498) rotate(-51.39)"><use href="#tri"/><text class="ml" y="3">MOL002565</text></g>
<g id="c-MOL004838" transform="rotate(54.52 384 830) translate(384 498) rotate(-54.52)"><use href="#tri"/><text class="ml" y="3">MOL004838</text></g>
<g id="c-MOL004912" transform="rotate(57.65 384 830) translate(384 498) rotate(-57.65)"><use href="#tri"/><text class="ml" y="3">MOL004912</text></g>
<g id="c-MOL005000" transform="rotate(60.78 384 830) translate(384 498) rotate(-60.78)"><use href="#tri"/><text class="ml" y="3">MOL005000</text></g>
<g id="c-MOL002311" transform="rotate(63.91 384 830) translate(384 498) rotate(-63.91)"><use href="#tri"/><text class="ml" y="3">MOL002311</text></g>
<g id="c-MOL004996" transform="rotate(67.04 384 830) translate(384 498) rotate(-67.04)"><use href="#tri"/><text class="ml" y="3">MOL004996</text></g>
<g id="c-MOL004911" transform="rotate(70.17 384 830) translate(384 498) rotate(-70.17)"><use href="#tri"/><text class="ml" y="3">MOL004911</text></g>
<g id="c-MOL000449" transform="rotate(73.3 384 830) translate(384 498) rotate(-73.3)"><use href="#tri"/><text class="ml" y="3">MOL000449</text></g>
<g id="c-MOL001792" transform="rotate(76.43 384 830) translate(384 498) rotate(-76.43)"><use href="#tri"/><text class="ml" y="3">MOL001792</text></g>
<g id="c-MOL004835" transform="rotate(79.56 384 830) translate(384 498) rotate(-79.56)"><use href="#tri"/><text class="ml" y="3">MOL004835</text></g>
<g id="c-MOL004993" transform="rotate(82.7 384 830) translate(384 498) rotate(-82.7)"><use href="#tri"/><text class="ml" y="3">MOL004993</text></g>
<g id="c-MOL004910" transform="rotate(85.83 384 830) translate(384 498) rotate(-85.83)"><use href="#tri"/><text class="ml" y="3">MOL004910</text></g>
<g id="c-MOL004833" transform="rotate(88.96 384 830) translate(384 498) rotate(-88.96)"><use href="#tri"/><text class="ml" y="3">MOL004833</text></g>
<g id="c-MOL004991" transform="rotate(92.09 384 830) translate(384 498) rotate(-92.09)"><use href="#tri"/><text class="ml" y="3">MOL004991</text></g>
<g id="c-MOL001484" transform="rotate(95.22 384 830) translate(384 498) rotate(-95.22)"><use href="#tri"/><text class="ml" y="3">MOL001484</text></g>
<g id="c-MOL000006" transform="rotate(98.35 384 830) translate(384 498) rotate(-98.35)"><use href="#tri"/><text class="ml" y="3">MOL000006</text></g>
<g id="c-MOL004908" transform="rotate(101.48 384 830) translate(384 498) rotate(-101.48)"><use href="#tri"/><text class="ml" y="3">MOL004908</text></g>
<g id="c-MOL004990" transform="rotate(104.61 384 830) translate(384 498) rotate(-104.61)"><use href="#tri"/><text class="ml" y="3">MOL004990</text></g>
<g id="c-MOL000358" transform="rotate(107.74 384 830) translate(384 498) rotate(-107.74)"><use href="#tri"/><text class="ml" y="3">MOL000358</text></g>
<g id="c-MOL004829" transform="rotate(110.87 384 830) translate(384 498) rotate(-110.87)"><use href="#tri"/><text class="ml" y="3">MOL004829</text></g>
<g id="c-MOL003170" transform="rotate(114 384 830) translate(384 498) rotate(-114)"><use href="#tri"/><text class="ml" y="3">MOL003170</text></g>
<g id="c-MOL000211" transform="rotate(117.13 384 830) translate(384 498) rotate(-117.13)"><use href="#tri"/><text class="ml" y="3">MOL000211</text></g>
<g id="c-MOL000500" transform="rotate(120.26 384 830) translate(384 498) rotate(-120.26)"><use href="#tri"/><text class="ml" y="3">MOL000500</text></g>
<g id="c-MOL004907" transform="rotate(123.39 384 830) translate(384 498) rotate(-123.39)"><use href="#tri"/><text class="ml" y="3">MOL004907</text></g>
<g id="c-MOL004989" transform="rotate(126.52 384 830) translate(384 498) rotate(-126.52)"><use href="#tri"/><text class="ml" y="3">MOL004989</text></g>
<g id="c-MOL003155" transform="rotate(129.65 384 830) translate(384 498) rotate(-129.65)"><use href="#tri"/><text class="ml" y="3">MOL003155</text></g>
<g id="c-MOL004988" transform="rotate(132.78 384 830) translate(384 498) rotate(-132.78)"><use href="#tri"/><text class="ml" y="3">MOL004988</text></g>
<g id="c-MOL004828" transform="rotate(135.91 384 830) translate(384 498) rotate(-135.91)"><use href="#tri"/><text class="ml" y="3">MOL004828</text></g>
<g id="c-MOL004904" transform="rotate(139.04 384 830) translate(384 498) rotate(-139.04)"><use href="#tri"/><text class="ml" y="3">MOL004904</text></g>
<g id="c-MOL004985" transform="rotate(142.17 384 830) translate(384 498) rotate(-142.17)"><use href="#tri"/><text class="ml" y="3">MOL004985</text></g>
<g id="c-MOL003152" transform="rotate(145.3 384 830) translate(384 498) rotate(-145.3)"><use href="#tri"/><text class="ml" y="3">MOL003152</text></g>
<g id="c-MOL000497" transform="rotate(148.43 384 830) translate(384 498) rotate(-148.43)"><use href="#tri"/><text class="ml" y="3">MOL000497</text></g>
<g id="c-MOL003137" transform="rotate(151.57 384 830) translate(384 498) rotate(-151.57)"><use href="#tri"/><text class="ml" y="3">MOL003137</text></g>
<g id="c-MOL004903" transform="rotate(154.7 384 830) translate(384 498) rotate(-154.7)"><use href="#tri"/><text class="ml" y="3">MOL004903</text></g>
<g id="c-MOL004927" transform="rotate(157.83 384 830) translate(384 498) rotate(-157.83)"><use href="#tri"/><text class="ml" y="3">MOL004927</text></g>
<g id="c-MOL002322" transform="rotate(160.96 384 830) translate(384 498) rotate(-160.96)"><use href="#tri"/><text class="ml" y="3">MOL002322</text></g>
<g id="c-MOL004580" transform="rotate(164.09 384 830) translate(384 498) rotate(-164.09)"><use href="#tri"/><text class="ml" y="3">MOL004580</text></g>
<g id="c-MOL000417" transform="rotate(167.22 384 830) translate(384 498) rotate(-167.22)"><use href="#tri"/><text class="ml" y="3">MOL000417</text></g>
<g id="c-MOL004824" transform="rotate(170.35 384 830) translate(384 498) rotate(-170.35)"><use href="#tri"/><text class="ml" y="3">MOL004824</text></g>
<g id="c-MOL004820" transform="rotate(173.48 384 830) translate(384 498) rotate(-173.48)"><use href="#tri"/><text class="ml" y="3">MOL004820</text></g>
<g id="c-MOL004887" transform="rotate(176.61 384 830) translate(384 498) rotate(-176.61)"><use href="#tri"/><text class="ml" y="3">MOL004887</text></g>
<g id="c-MOL000392" transform="rotate(179.74 384 830) translate(384 498) rotate(-179.74)"><use href="#tri"/><text class="ml" y="3">MOL000392</text></g>
<g id="c-MOL004873" transform="rotate(182.87 384 830) translate(384 498) rotate(-182.87)"><use href="#tri"/><text class="ml" y="3">MOL004873</text></g>
<g id="c-MOL004849" transform="rotate(186 384 830) translate(384 498) rotate(-186)"><use href="#tri"/><text class="ml" y="3">MOL004849</text></g>
<g id="c-MOL004817" transform="rotate(189.13 384 830) translate(384 498) rotate(-189.13)"><use href="#tri"/><text class="ml" y="3">MOL004817</text></g>
<g id="c-MOL004815" transform="rotate(192.26 384 830) translate(384 498) rotate(-192.26)"><use href="#tri"/><text class="ml" y="3">MOL004815</text></g>
<g id="c-MOL004974" transform="rotate(195.39 384 830) translate(384 498) rotate(-195.39)"><use href="#tri"/><text class="ml" y="3">MOL004974</text></g>
<g id="c-MOL004885" transform="rotate(198.52 384 830) translate(384 498) rotate(-198.52)"><use href="#tri"/><text class="ml" y="3">MOL004885</text></g>
<g id="c-MOL001439" transform="rotate(201.65 384 830) translate(384 498) rotate(-201.65)"><use href="#tri"/><text class="ml" y="3">MOL001439</text></g>
<g id="c-MOL004814" transform="rotate(204.78 384 830) translate(384 498) rotate(-204.78)"><use href="#tri"/><text class="ml" y="3">MOL004814</text></g>
<g id="c-MOL001422" transform="rotate(207.91 384 830) translate(384 498) rotate(-207.91)"><use href="#tri"/><text class="ml" y="3">MOL001422</text></g>
<g id="c-MOL000354" transform="rotate(211.04 384 830) translate(384 498) rotate(-211.04)"><use href="#tri"/><text class="ml" y="3">MOL000354</text></g>
<g id="c-MOL004884" transform="rotate(214.17 384 830) translate(384 498) rotate(-214.17)"><use href="#tri"/><text class="ml" y="3">MOL004884</text></g>
<g id="c-MOL004968" transform="rotate(217.3 384 830) translate(384 498) rotate(-217.3)"><use href="#tri"/><text class="ml" y="3">MOL004968</text></g>
<g id="c-MOL000239" transform="rotate(220.43 384 830) translate(384 498) rotate(-220.43)"><use href="#tri"/><text class="ml" y="3">MOL000239</text></g>
<g id="c-MOL004811" transform="rotate(223.57 384 830) translate(384 498) rotate(-223.57)"><use href="#tri"/><text class="ml" y="3">MOL004811</text></g>
<g id="c-MOL004869" transform="rotate(226.7 384 830) translate(384 498) rotate(-226.7)"><use href="#tri"/><text class="ml" y="3">MOL004869</text></g>
<g id="c-MOL001421" transform="rotate(229.83 384 830) translate(384 498) rotate(-229.83)"><use href="#tri"/><text class="ml" y="3">MOL001421</text></g>
<g id="c-MOL004961" transform="rotate(232.96 384 830) translate(384 498) rotate(-232.96)"><use href="#tri"/><text class="ml" y="3">MOL004961</text></g>
<g id="c-MOL004862" transform="rotate(236.09 384 830) translate(384 498) rotate(-236.09)"><use href="#tri"/><text class="ml" y="3">MOL004862</text></g>
<g id="c-MOL001420" transform="rotate(239.22 384 830) translate(384 498) rotate(-239.22)"><use href="#tri"/><text class="ml" y="3">MOL001420</text></g>
<g id="c-MOL004810" transform="rotate(242.35 384 830) translate(384 498) rotate(-242.35)"><use href="#tri"/><text class="ml" y="3">MOL004810</text></g>
<g id="c-MOL004879" transform="rotate(245.48 384 830) translate(384 498) rotate(-245.48)"><use href="#tri"/><text class="ml" y="3">MOL004879</text></g>
<g id="c-MOL001418" transform="rotate(248.61 384 830) translate(384 498) rotate(-248.61)"><use href="#tri"/><text class="ml" y="3">MOL001418</text></g>
<g id="c-MOL004959" transform="rotate(251.74 384 830) translate(384 498) rotate(-251.74)"><use href="#tri"/><text class="ml" y="3">MOL004959</text></g>
<g id="c-MOL004808" transform="rotate(254.87 384 830) translate(384 498) rotate(-254.87)"><use href="#tri"/><text class="ml" y="3">MOL004808</text></g>
<g id="c-MOL004866" transform="rotate(258 384 830) translate(384 498) rotate(-258)"><use href="#tri"/><text class="ml" y="3">MOL004866</text></g>
<g id="c-MOL005020" transform="rotate(261.13 384 830) translate(384 498) rotate(-261.13)"><use href="#tri"/><text class="ml" y="3">MOL005020</text></g>
<g id="c-MOL004803" transform="rotate(264.26 384 830) translate(384 498) rotate(-264.26)"><use href="#tri"/><text class="ml" y="3">MOL004803</text></g>
<g id="c-MOL005018" transform="rotate(267.39 384 830) translate(384 498) rotate(-267.39)"><use href="#tri"/><text class="ml" y="3">MOL005018</text></g>
<g id="c-MOL004867" transform="rotate(270.52 384 830) translate(384 498) rotate(-270.52)"><use href="#tri"/><text class="ml" y="3">MOL004867</text></g>
<g id="c-MOL004864" transform="rotate(273.65 384 830) translate(384 498) rotate(-273.65)"><use href="#tri"/><text class="ml" y="3">MOL004864</text></g>
<g id="c-MOL004805" transform="rotate(276.78 384 830) translate(384 498) rotate(-276.78)"><use href="#tri"/><text class="ml" y="3">MOL004805</text></g>
<g id="c-MOL005017" transform="rotate(279.91 384 830) translate(384 498) rotate(-279.91)"><use href="#tri"/><text class="ml" y="3">MOL005017</text></g>
<g id="c-MOL004949" transform="rotate(283.04 384 830) translate(384 498) rotate(-283.04)"><use href="#tri"/><text class="ml" y="3">MOL004949</text></g>
<g id="c-MOL004863" transform="rotate(286.17 384 830) translate(384 498) rotate(-286.17)"><use href="#tri"/><text class="ml" y="3">MOL004863</text></g>
<g id="c-MOL004948" transform="rotate(289.3 384 830) translate(384 498) rotate(-289.3)"><use href="#tri"/><text class="ml" y="3">MOL004948</text></g>
<g id="c-MOL005016" transform="rotate(292.43 384 830) translate(384 498) rotate(-292.43)"><use href="#tri"/><text class="ml" y="3">MOL005016</text></g>
<g id="c-MOL005013" transform="rotate(295.57 384 830) translate(384 498) rotate(-295.57)"><use href="#tri"/><text class="ml" y="3">MOL005013</text></g>
<g id="c-MOL000098" transform="rotate(298.7 384 830) translate(384 498) rotate(-298.7)"><use href="#tri"/><text class="ml" y="3">MOL000098</text></g>
<g id="c-MOL001928" transform="rotate(301.83 384 830) translate(384 498) rotate(-301.83)"><use href="#tri"/><text class="ml" y="3">MOL001928</text></g>
<g id="c-MOL004857" transform="rotate(304.96 384 830) translate(384 498) rotate(-304.96)"><use href="#tri"/><text class="ml" y="3">MOL004857</text></g>
<g id="c-MOL001924" transform="rotate(308.09 384 830) translate(384 498) rotate(-308.09)"><use href="#tri"/><text class="ml" y="3">MOL001924</text></g>
<g id="c-MOL004329" transform="rotate(311.22 384 830) translate(384 498) rotate(-311.22)"><use href="#tri"/><text class="ml" y="3">MOL004329</text></g>
<g id="c-MOL004945" transform="rotate(314.35 384 830) translate(384 498) rotate(-314.35)"><use href="#tri"/><text class="ml" y="3">MOL004945</text></g>
<g id="c-MOL001919" transform="rotate(317.48 384 830) translate(384 498) rotate(-317.48)"><use href="#tri"/><text class="ml" y="3">MOL001919</text></g>
<g id="c-MOL001918" transform="rotate(320.61 384 830) translate(384 498) rotate(-320.61)"><use href="#tri"/><text class="ml" y="3">MOL001918</text></g>
<g id="c-MOL005012" transform="rotate(323.74 384 830) translate(384 498) rotate(-323.74)"><use href="#tri"/><text class="ml" y="3">MOL005012</text></g>
<g id="c-MOL004856" transform="rotate(326.87 384 830) translate(384 498) rotate(-326.87)"><use href="#tri"/><text class="ml" y="3">MOL004856</text></g>
<g id="c-MOL005008" transform="rotate(330 384 830) translate(384 498) rotate(-330)"><use href="#tri"/><text class="ml" y="3">MOL005008</text></g>
<g id="c-MOL004855" transform="rotate(333.13 384 830) translate(384 498) rotate(-333.13)"><use href="#tri"/><text class="ml" y="3">MOL004855</text></g>
<g id="c-MOL000492" transform="rotate(336.26 384 830) translate(384 498) rotate(-336.26)"><use href="#tri"/><text class="ml" y="3">MOL000492</text></g>
<g id="c-MOL003896" transform="rotate(339.39 384 830) translate(384 498) rotate(-339.39)"><use href="#tri"/><text class="ml" y="3">MOL003896</text></g>
<g id="c-MOL004952" transform="rotate(342.52 384 830) translate(384 498) rotate(-342.52)"><use href="#tri"/><text class="ml" y="3">MOL004952</text></g>
<g id="c-MOL004850" transform="rotate(345.65 384 830) translate(384 498) rotate(-345.65)"><use href="#tri"/><text class="ml" y="3">MOL004850</text></g>
<g id="c-MOL004940" transform="rotate(348.78 384 830) translate(384 498) rotate(-348.78)"><use href="#tri"/><text class="ml" y="3">MOL004940</text></g>
<g id="c-MOL005007" transform="rotate(351.91 384 830) translate(384 498) rotate(-351.91)"><use href="#tri"/><text class="ml" y="3">MOL005007</text></g>
<g id="c-MOL004941" transform="rotate(355.04 384 830) translate(384 498) rotate(-355.04)"><use href="#tri"/><text class="ml" y="3">MOL004941</text></g>
<g id="c-MOL005006" transform="rotate(358.17 384 830) translate(384 498) rotate(-358.17)"><use href="#tri"/><text class="ml" y="3">MOL005006</text></g>
<g id="c-MOL004853" transform="rotate(1.3 384 830) translate(384 498) rotate(-1.3)"><use href="#tri"/><text class="ml" y="3">MOL004853</text></g>
<g id="c-MOL004845" transform="rotate(4.43 384 830) translate(384 498) rotate(-4.43)"><use href="#tri"/><text class="ml" y="3">MOL004845</text></g>
<g id="c-MOL004924" transform="rotate(7.57 384 830) translate(384 498) rotate(-7.57)"><use href="#tri"/><text class="ml" y="3">MOL004924</text></g>
<g id="c-MOL004865" transform="rotate(10.7 384 830) translate(384 498) rotate(-10.7)"><use href="#tri"/><text class="ml" y="3">MOL004865</text></g>
<g id="c-MOL004915" transform="rotate(13.83 384 830) translate(384 498) rotate(-13.83)"><use href="#tri"/><text class="ml" y="3">MOL004915</text></g>
<g id="c-MOL004798" transform="rotate(16.96 384 830) translate(384 498) rotate(-16.96)"><use href="#tri"/><text class="ml" y="3">MOL004798</text></g>
<g id="c-MOL004848" transform="rotate(20.09 384 830) translate(384 498) rotate(-20.09)"><use href="#tri"/><text class="ml" y="3">MOL004848</text></g>
<g id="c-MOL004355" transform="rotate(23.22 384 830) translate(384 498) rotate(-23.22)"><use href="#tri"/><text class="ml" y="3">MOL004355</text></g>
<g id="c-MOL004914" transform="rotate(26.35 384 830) translate(384 498) rotate(-26.35)"><use href="#tri"/><text class="ml" y="3">MOL004914</text></g>
<g id="c-MOL005003" transform="rotate(29.48 384 830) translate(384 498) rotate(-29.48)"><use href="#tri"/><text class="ml" y="3">MOL005003</text></g>
<g id="c-MOL004913" transform="rotate(32.61 384 830) translate(384 498) rotate(-32.61)"><use href="#tri"/><text class="ml" y="3">MOL004913</text></g>
<g id="c-MOL004841" transform="rotate(35.74 384 830) translate(384 498) rotate(-35.74)"><use href="#tri"/><text class="ml" y="3">MOL004841</text></g>
<g id="c-MOL005001" transform="rotate(38.87 384 830) translate(384 498) rotate(-38.87)"><use href="#tri"/><text class="ml" y="3">MOL005001</text></g>
</g>
<text class="sf cp" x="394" y="1236">(c)</text>
</svg>
